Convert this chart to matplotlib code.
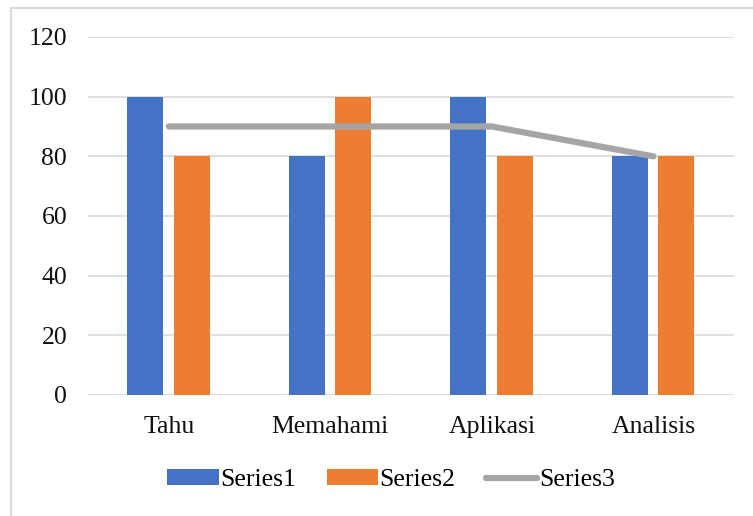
import numpy as np
import matplotlib.pyplot as plt
from matplotlib.patches import Rectangle

categories = ['Tahu', 'Memahami', 'Aplikasi', 'Analisis']
series1 = [100, 80, 100, 80]
series2 = [80, 100, 80, 80]
series3 = [90, 90, 90, 80]
yticks = [0, 20, 40, 60, 80, 100, 120]

plt.rcParams['font.family'] = ['Liberation Serif', 'DejaVu Serif']

fig = plt.figure(figsize=(7.53, 5.16), dpi=100)
ax = fig.add_axes([0.1169, 0.2345, 0.858, 0.6938])

# chart border
fig.patches.append(Rectangle((11 / 753, -0.1), 1.2, (1 - 8 / 516) + 0.1,
                             transform=fig.transFigure, fill=False,
                             edgecolor='#d9d9d9', linewidth=1.5))

x = np.arange(len(categories))
w = 0.223
b1 = ax.bar(x - 0.145, series1, w, color='#4472c4', label='Series1', zorder=2)
b2 = ax.bar(x + 0.142, series2, w, color='#ed7d31', label='Series2', zorder=2)
l3, = ax.plot(x, series3, color='#a5a5a5', linewidth=4.5, label='Series3',
              solid_capstyle='round', zorder=3)

ax.set_xlim(-0.5, len(categories) - 0.5)
ax.set_ylim(0, 120)
ax.set_yticks(yticks)
ax.set_xticks(x)
ax.set_xticklabels(categories)
ax.yaxis.grid(True, color='#d9d9d9', linewidth=1.2, zorder=0)
ax.set_axisbelow(True)
for s in ax.spines.values():
    s.set_visible(False)
ax.tick_params(axis='both', length=0, labelsize=18.5, colors='#111111')
ax.tick_params(axis='y', pad=15)
ax.tick_params(axis='x', pad=15)

fig.legend(handles=[b1, b2, l3], loc='center',
           bbox_to_anchor=(391 / 753, 1 - 480 / 516), ncol=3,
           frameon=False, fontsize=18.5, handlelength=2.0, handleheight=0.55,
           columnspacing=1.2, handletextpad=0.05)

fig.savefig('out.png', dpi=100)
